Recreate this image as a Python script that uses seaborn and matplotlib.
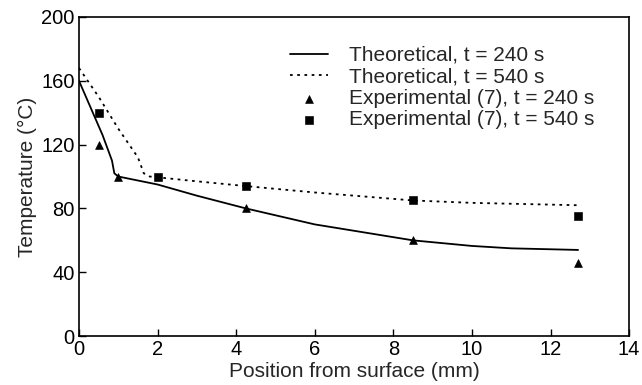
import matplotlib
matplotlib.use("Agg")
import matplotlib.pyplot as plt
import seaborn as sns
import pandas as pd

sns.set_theme(style="ticks")
plt.rcParams['font.family'] = ['Liberation Sans', 'DejaVu Sans']

# Theoretical curves
theo240_x = [0.0, 0.3, 0.6, 0.84, 0.9, 1.0, 2.0, 3.0, 4.25, 6.0, 8.5, 10.0, 11.0, 12.7]
theo240_y = [160, 143, 126, 110, 102, 100, 95, 88, 80, 70, 60, 56.5, 55, 54]
theo540_x = [0.0, 0.5, 1.0, 1.5, 1.65, 1.8, 2.0, 3.0, 4.25, 6.0, 8.5, 10.0, 12.7]
theo540_y = [168, 150, 130, 112, 102, 100, 99.5, 97, 94, 90, 85, 83.5, 82]
# Experimental (7)
exp240_x = [0.5, 1.0, 4.25, 8.5, 12.7]
exp240_y = [120, 100, 80, 60, 46]
exp540_x = [0.5, 2.0, 4.25, 8.5, 12.7]
exp540_y = [140, 100, 94, 85, 75]

labels = ["Theoretical, t = 240 s", "Theoretical, t = 540 s",
          "Experimental (7), t = 240 s", "Experimental (7), t = 540 s"]

fig = plt.figure(figsize=(6.42, 3.85), dpi=100)
ax = fig.add_axes([0.123, 0.127, 0.857, 0.829])

sns.lineplot(x=theo240_x, y=theo240_y, ax=ax, color='black', lw=1.3, label=labels[0], sort=False)
sns.lineplot(x=theo540_x, y=theo540_y, ax=ax, color='black', lw=1.3, linestyle=(0, (1.5, 2.5)), label=labels[1], sort=False)
sns.scatterplot(x=exp240_x, y=exp240_y, ax=ax, color='black', marker='^', s=32, edgecolor='black', label=labels[2], zorder=5)
sns.scatterplot(x=exp540_x, y=exp540_y, ax=ax, color='black', marker='s', s=30, edgecolor='black', label=labels[3], zorder=5)

ax.set_xlim(0, 14)
ax.set_ylim(0, 200)
ax.set_xticks(range(0, 15, 2))
ax.set_yticks(range(0, 201, 40))
ax.tick_params(direction='in', length=5, width=1, labelsize=14.5, colors='black', pad=3)
for s in ax.spines.values():
    s.set_color('black')
    s.set_linewidth(1.2)
ax.set_xlabel("Position from surface (mm)", fontsize=15, labelpad=2)
ax.set_ylabel("Temperature (°C)", fontsize=15, labelpad=3)

leg = ax.legend(loc='upper left', bbox_to_anchor=(0.384, 0.909), frameon=False, fontsize=15,
                handlelength=1.8, handletextpad=1.0, labelspacing=0.12,
                borderpad=0, borderaxespad=0)

fig.savefig("out.png", dpi=100)
